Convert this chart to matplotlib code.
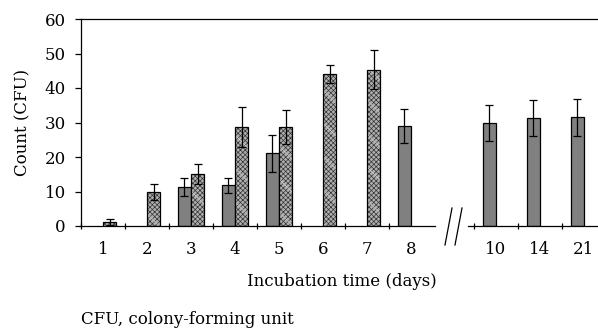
import numpy as np
import matplotlib
matplotlib.use("Agg")
import matplotlib.pyplot as plt
from matplotlib.lines import Line2D

plt.rcParams['font.family'] = ['DejaVu Serif']
plt.rcParams['hatch.linewidth'] = 0.5

days = ['1', '2', '3', '4', '5', '6', '7', '8', '10', '14', '21']
solid = [np.nan, np.nan, 11.2, 11.8, 21.1, np.nan, np.nan, 28.9, 29.9, 31.3, 31.5]
solid_err = [np.nan, np.nan, 2.6, 2.1, 5.4, np.nan, np.nan, 4.9, 5.2, 5.2, 5.3]
hatched = [1.1, 9.8, 15.2, 28.6, 28.6, 44.1, 45.3, np.nan, np.nan, np.nan, np.nan]
hatched_err = [0.8, 2.3, 2.9, 5.8, 4.9, 2.6, 5.7, np.nan, np.nan, np.nan, np.nan]
yticks = [0, 10, 20, 30, 40, 50, 60]

FS = 12
x = np.arange(len(days), dtype=float)
x[8:] += 0.93  # axis break gap

fig = plt.figure(figsize=(5.98, 3.32), dpi=100)
ax = fig.add_axes([81 / 598, 1 - 226 / 332, 1 - 81 / 598, (226 - 19) / 332])

w = 0.295
off = 0.148
xs = x - off
xh = x + off

ax.bar(xs, solid, width=w, color='#808080', edgecolor='black', linewidth=0.9, zorder=2)
ax.errorbar(xs, solid, yerr=solid_err, fmt='none', ecolor='black', elinewidth=0.9,
            capsize=2.8, capthick=0.9, zorder=4)

# hatched bars: dense crosshatch + light diagonal lines + outline
ax.bar(xh, hatched, width=w, color='#b0b0b0', edgecolor='#333333', hatch='xxxxxxx',
       linewidth=0, zorder=2)
ax.bar(xh, hatched, width=w, color='none', edgecolor='#f0f0f0', hatch='\\',
       linewidth=0, zorder=2.5)
ax.bar(xh, hatched, width=w, color='none', edgecolor='black', linewidth=0.9, zorder=3)
ax.errorbar(xh, hatched, yerr=hatched_err, fmt='none', ecolor='black', elinewidth=0.9,
            capsize=2.8, capthick=0.9, zorder=4)

ax.set_xlim(-0.5, 11.25)
ax.set_ylim(0, 60)
ax.set_yticks(yticks)
ax.set_yticklabels([str(v) for v in yticks], fontsize=FS)
ax.tick_params(axis='y', direction='out', length=4, width=0.9, pad=7)

ax.set_xticks(x)
ax.set_xticklabels(days, fontsize=FS)
ax.tick_params(axis='x', which='major', length=0, pad=11)
bounds = list(np.arange(8) - 0.5) + list(x[8:] - 0.5)
ax.set_xticks(bounds, minor=True)
ax.tick_params(axis='x', which='minor', direction='inout', length=5, width=0.9)

for s in ['right', 'bottom']:
    ax.spines[s].set_visible(False)
ax.spines['left'].set_linewidth(0.9)
ax.spines['top'].set_linewidth(0.9)

ax.plot([-0.5, 7.55], [0, 0], color='black', lw=0.9, clip_on=False, zorder=5)
ax.plot([8.3, 11.25], [0, 0], color='black', lw=0.9, clip_on=False, zorder=5)

# axis break marks
fig.add_artist(Line2D([445 / 598, 452 / 598], [1 - 245 / 332, 1 - 208 / 332], color='black', lw=0.9))
fig.add_artist(Line2D([455 / 598, 462 / 598], [1 - 245 / 332, 1 - 208 / 332], color='black', lw=0.9))

fig.text(23 / 598, 1 - 122 / 332, 'Count (CFU)', rotation=90, ha='center', va='center', fontsize=FS)
fig.text(342 / 598, 1 - 282 / 332, 'Incubation time (days)', ha='center', va='center', fontsize=FS)
fig.text(81 / 598, 1 - 320 / 332, 'CFU, colony-forming unit', ha='left', va='center', fontsize=FS)

fig.savefig('out.png', dpi=100)
